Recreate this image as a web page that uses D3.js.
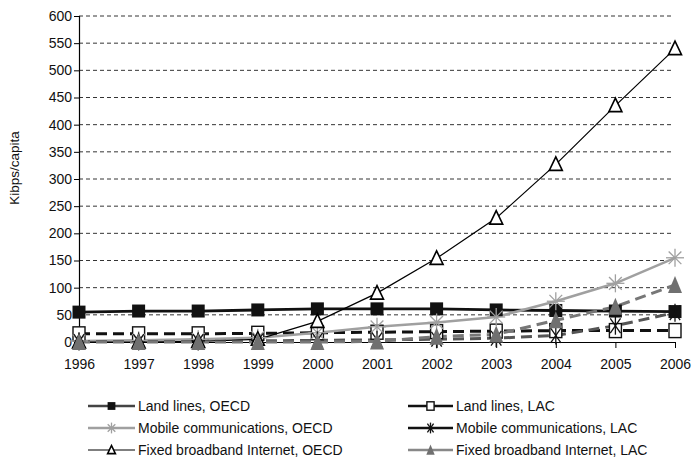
<!DOCTYPE html>
<html><head><meta charset="utf-8">
<script src="https://cdn.jsdelivr.net/npm/d3@7"></script>
<style>body{margin:0;background:#fff}svg{display:block;font-family:"Liberation Sans",Arial,sans-serif}</style>
</head><body><svg id="c" width="698" height="457"></svg>
<script>
const years = [1996,1997,1998,1999,2000,2001,2002,2003,2004,2005,2006];
const yTicks = [0,50,100,150,200,250,300,350,400,450,500,550,600];
const landOECD   = [55,57,57,59,61,61,61,59,58,57,56];
const landLAC    = [15,15,15,16,17,18,19,20,21,21,21];
const mobileOECD = [2,3,5,8,17,28,36,46,75,108,155];
const mobileLAC  = [1,1,1,2,3,4,5,7,12,30,54];
const fbOECD     = [0,0,1,5,38,90,154,228,327,435,540];
const fbLAC      = [0,0,0,0,0,1,10,14,40,65,105];
const seriesNames = ["Land lines, OECD","Land lines, LAC","Mobile communications, OECD","Mobile communications, LAC","Fixed broadband Internet, OECD","Fixed broadband Internet, LAC"];

const svg = d3.select("#c");
const x = d3.scaleLinear().domain([1996,2006]).range([79,675]);
const y = d3.scaleLinear().domain([0,600]).range([342,16]);

// gridlines
svg.append("g").selectAll("line").data(yTicks.filter(d=>d>0)).join("line")
  .attr("x1",x(1996)).attr("x2",673).attr("y1",d=>y(d)).attr("y2",d=>y(d))
  .attr("stroke","#000").attr("stroke-width",0.8).attr("stroke-dasharray","4,3");

// axes
const ya = svg.append("g").attr("transform",`translate(${x(1996)},0)`)
  .call(d3.axisLeft(y).tickValues(yTicks).tickSize(5).tickPadding(2));
ya.select(".domain").attr("stroke-width",1.2);
ya.selectAll("text").attr("font-size",14).attr("fill","#111");
const xa = svg.append("g").attr("transform",`translate(0,${y(0)})`)
  .call(d3.axisBottom(x).tickValues(years).tickFormat(d3.format("d")).tickSize(6).tickSizeOuter(0).tickPadding(11));
xa.select(".domain").attr("stroke-width",1.2);
xa.selectAll("text").attr("font-size",14).attr("fill","#111");

svg.append("text").attr("transform","translate(19,168) rotate(-90)")
  .attr("text-anchor","middle").attr("font-size",13.5).attr("fill","#111").text("Kibps/capita");

const line = d3.line().x((d,i)=>x(years[i])).y(d=>y(d));

const styles = [
  {data:landOECD, stroke:"#111", w:2.8, dash:null, marker:"sqF"},
  {data:landLAC, stroke:"#111", w:3, dash:"11,6", marker:"sqW"},
  {data:mobileOECD, stroke:"#a0a0a0", w:2.5, dash:null, marker:"star8"},
  {data:mobileLAC, stroke:"#555", w:3, dash:"11,6", marker:"star6"},
  {data:fbOECD, stroke:"#000", w:1.2, dash:null, marker:"triW"},
  {data:fbLAC, stroke:"#777", w:3, dash:"11,6", marker:"triG"}
];
const legendStroke = ["#444","#111","#a0a0a0","#111","#000","#888"];

styles.forEach(s=>{
  svg.append("path").datum(s.data).attr("d",line).attr("fill","none")
    .attr("stroke",s.stroke).attr("stroke-width",s.w).attr("stroke-dasharray",s.dash);
});

function marker(g, type, cx, cy, scale){
  const k = scale||1;
  if(type==="sqF"){
    g.append("rect").attr("x",cx-6.5*k).attr("y",cy-6.5*k).attr("width",13*k).attr("height",13*k).attr("fill","#111");
  } else if(type==="sqW"){
    g.append("rect").attr("x",cx-6*k).attr("y",cy-7*k).attr("width",12*k).attr("height",14*k).attr("fill","#fff").attr("stroke","#111").attr("stroke-width",1.4);
  } else if(type==="star8"){
    const r=9*k;
    [0,45,90,135].forEach(a=>{const t=a*Math.PI/180;
      g.append("line").attr("x1",cx-r*Math.cos(t)).attr("y1",cy-r*Math.sin(t)).attr("x2",cx+r*Math.cos(t)).attr("y2",cy+r*Math.sin(t))
       .attr("stroke","#a0a0a0").attr("stroke-width",1.3);});
  } else if(type==="star6"){
    const r=9*k;
    [90,55,125].forEach(a=>{const t=a*Math.PI/180;
      g.append("line").attr("x1",cx-r*Math.cos(t)).attr("y1",cy-r*Math.sin(t)).attr("x2",cx+r*Math.cos(t)).attr("y2",cy+r*Math.sin(t))
       .attr("stroke","#111").attr("stroke-width",1.3);});
  } else if(type==="triW"){
    const h=7.5*k;
    g.append("path").attr("d",`M${cx},${cy-h}L${cx+6.5*k},${cy+h*0.8}L${cx-6.5*k},${cy+h*0.8}Z`)
      .attr("fill","#fff").attr("stroke","#000").attr("stroke-width",1.6);
  } else if(type==="triG"){
    const h=9*k;
    g.append("path").attr("d",`M${cx},${cy-h}L${cx+7*k},${cy+h*0.9}L${cx-7*k},${cy+h*0.9}Z`)
      .attr("fill","#707070");
  }
}

const mg = svg.append("g");
styles.forEach(s=>{
  s.data.forEach((v,i)=>marker(mg, s.marker, x(years[i]), y(v)));
});

// legend
const leg = svg.append("g").attr("font-size",14).attr("fill","#111");
const legRows = [406,428,450];
seriesNames.forEach((name,i)=>{
  const col = i%2, row = Math.floor(i/2);
  const x0 = col===0 ? 88 : 408, x1 = col===0 ? 135 : 453;
  const yy = legRows[row];
  const s = styles[i];
  leg.append("line").attr("x1",x0).attr("x2",x1).attr("y1",yy).attr("y2",yy)
    .attr("stroke",legendStroke[i]).attr("stroke-width",i===4?1.2:2.5);
  marker(leg, s.marker, (x0+x1)/2, yy, 0.6);
  leg.append("text").attr("x",x1+3).attr("y",yy).attr("dy","0.35em").text(name);
});
</script></body></html>
